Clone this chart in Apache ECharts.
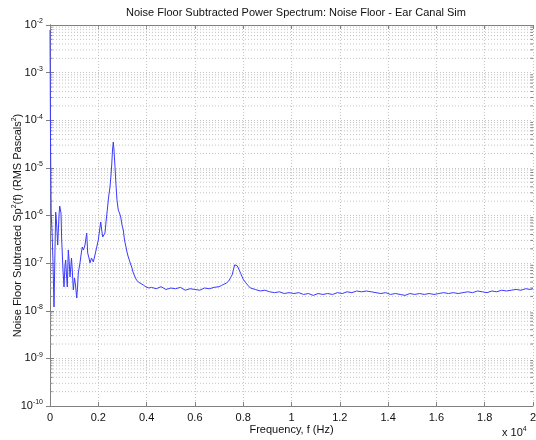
<!DOCTYPE html>
<html>
<head>
<meta charset="utf-8">
<script src="https://cdn.jsdelivr.net/npm/echarts@6/dist/echarts.min.js"></script>
<style>html,body{margin:0;padding:0;background:#fff}#c{width:536px;height:440px}</style>
</head>
<body>
<div id="c"></div>
<script>
// Frequency bins (Hz)
const freqs = [
  0, 21, 50, 83, 124, 166, 207, 236, 277, 319, 373, 402, 455, 484, 538, 580, 621, 650, 683, 716,
  758, 795, 828, 890, 923, 965, 1015, 1056, 1106, 1139, 1172, 1242, 1284, 1337, 1387, 1449, 1520, 1561, 1615, 1656,
  1718, 1793, 1863, 1934, 2000, 2099, 2141, 2182, 2236, 2277, 2319, 2373, 2422, 2484, 2526, 2555, 2588, 2621, 2650, 2692,
  2733, 2774, 2828, 2878, 2928, 2981, 3035, 3085, 3147, 3188, 3230, 3284, 3333, 3383, 3437, 3520, 3582, 3656, 3727, 3863,
  3975, 4100,
  4200, 4400, 4600, 4800, 5000, 5200, 5400, 5600, 5800, 6000, 6200, 6400, 6600, 6800, 7000,
  7100, 7200, 7300, 7400, 7500, 7550, 7600, 7650, 7700, 7750, 7800, 7900, 8000, 8100, 8200, 8300,
  8500, 8700, 8900, 9100, 9300, 9500, 9700, 9900, 10100, 10300, 10500, 10700, 10900, 11100, 11300, 11500,
  11700, 11900, 12100, 12300, 12500, 12700, 12900, 13100, 13300, 13500, 13700, 13900, 14100, 14300, 14500, 14700,
  14900, 15100, 15300, 15500, 15700, 15900, 16100, 16300, 16500, 16700, 16900, 17100, 17300, 17500, 17700, 17900,
  18100, 18300, 18500, 18700, 18900, 19100, 19300, 19500, 19700, 19900, 20000
];
// Noise floor subtracted Sp^2(f) (RMS Pascals^2)
const power = [
  7.85e-3, 3.85e-5, 1.02e-6, 4.96e-7, 1.06e-7, 1.20e-8, 1.89e-7, 1.18e-6, 6.32e-7, 2.40e-7, 1.02e-6, 1.58e-6, 1.13e-6, 3.06e-7, 7.18e-8, 3.16e-8, 9.14e-8, 1.16e-7, 5.64e-8, 3.16e-8,
  1.89e-7, 1.06e-7, 5.12e-8, 1.28e-7, 7.18e-8, 2.73e-8, 4.88e-8, 3.47e-8, 1.85e-8, 3.01e-8, 6.21e-8, 1.01e-7, 1.48e-7, 2.18e-7, 1.89e-7, 2.40e-7, 4.29e-7, 1.63e-7, 1.28e-7, 1.01e-7,
  1.28e-7, 1.06e-7, 1.48e-7, 1.63e-7, 3.06e-7, 7.31e-7, 4.96e-7, 3.54e-7, 3.71e-7, 4.29e-7, 7.31e-7, 1.30e-6, 2.33e-6, 3.96e-6, 7.08e-6, 1.15e-5, 2.37e-5, 3.49e-5, 2.37e-5, 1.04e-5,
  4.37e-6, 2.11e-6, 1.30e-6, 1.13e-6, 9.31e-7, 6.32e-7, 4.96e-7, 3.06e-7, 2.18e-7, 1.71e-7, 1.41e-7, 1.16e-7, 9.59e-8, 8.30e-8, 6.52e-8, 5.12e-8, 4.43e-8, 4.02e-8, 3.65e-8, 3.47e-8,
  3.16e-8, 3.0e-8,
  3.1e-8, 2.9e-8, 3.2e-8, 2.8e-8, 3.0e-8, 2.9e-8, 3.1e-8, 2.7e-8, 2.9e-8, 2.8e-8, 2.7e-8, 3.0e-8, 2.9e-8, 3.1e-8, 3.2e-8,
  3.4e-8, 3.6e-8, 3.8e-8, 4.2e-8, 5.2e-8, 5.8e-8, 7.5e-8, 9.2e-8, 9.6e-8, 8.8e-8, 7.9e-8, 6.0e-8, 4.6e-8, 3.9e-8, 3.4e-8, 3.0e-8,
  2.8e-8, 2.6e-8, 2.7e-8, 2.5e-8, 2.4e-8, 2.5e-8, 2.3e-8, 2.4e-8, 2.3e-8, 2.4e-8, 2.2e-8, 2.3e-8, 2.1e-8, 2.3e-8, 2.2e-8, 2.3e-8,
  2.2e-8, 2.4e-8, 2.3e-8, 2.5e-8, 2.4e-8, 2.6e-8, 2.5e-8, 2.6e-8, 2.5e-8, 2.4e-8, 2.3e-8, 2.4e-8, 2.2e-8, 2.3e-8, 2.2e-8, 2.1e-8,
  2.3e-8, 2.2e-8, 2.3e-8, 2.2e-8, 2.3e-8, 2.2e-8, 2.3e-8, 2.4e-8, 2.3e-8, 2.4e-8, 2.3e-8, 2.4e-8, 2.5e-8, 2.4e-8, 2.6e-8, 2.5e-8,
  2.4e-8, 2.6e-8, 2.5e-8, 2.7e-8, 2.6e-8, 2.7e-8, 2.8e-8, 2.7e-8, 2.9e-8, 2.8e-8, 2.9e-8
];
// Axis tick labels
const xTickLabels = ['0', '0.2', '0.4', '0.6', '0.8', '1', '1.2', '1.4', '1.6', '1.8', '2'];
const yTickExponents = [-10, -9, -8, -7, -6, -5, -4, -3, -2];

const X_MIN = 0, X_MAX = 20000, X_STEP = 2000;
const Y_MIN = 1e-10, Y_MAX = 1e-2;

// minor log grid positions (2..9 x 10^k)
const minorVals = [];
for (let k = -10; k < -2; k++) {
  for (let m = 2; m <= 9; m++) minorVals.push([X_MIN, m * Math.pow(10, k)]);
}

const lineData = freqs.map((f, i) => [f, power[i]]);
const gridCol = '#c4c4c4';
const axisCol = '#808080';
const font = 'Liberation Sans, Arial, Helvetica, sans-serif';

const chart = echarts.init(document.getElementById('c'), null, {renderer: 'canvas'});
chart.setOption({
  animation: false,
  backgroundColor: '#fff',
  title: {
    text: 'Noise Floor Subtracted Power Spectrum: Noise Floor - Ear Canal Sim',
    left: 291, top: 2, textAlign: 'center',
    textStyle: {fontFamily: font, fontSize: 11, fontWeight: 'normal', color: '#111'}
  },
  grid: {left: 50, right: 3, top: 25, bottom: 34, containLabel: false, outerBoundsMode: 'none'},
  xAxis: [{
    type: 'value', min: X_MIN, max: X_MAX, interval: X_STEP,
    name: 'Frequency, f (Hz)', nameLocation: 'middle', nameGap: 18, nameMoveOverlap: false,
    nameTextStyle: {fontFamily: font, fontSize: 11, color: '#111'},
    axisLine: {show: true, lineStyle: {color: axisCol, width: 1}},
    axisTick: {show: true, inside: true, length: 4, lineStyle: {color: axisCol}},
    axisLabel: {fontFamily: font, fontSize: 11, color: '#111', margin: 6,
      formatter: (v) => xTickLabels[Math.round(v / X_STEP)]},
    splitLine: {show: true, lineStyle: {color: gridCol, type: [1, 2], width: 1}}
  }, {
    type: 'value', min: X_MIN, max: X_MAX, interval: X_STEP, position: 'top',
    axisLine: {show: true, lineStyle: {color: axisCol, width: 1}},
    axisTick: {show: true, inside: true, length: 4, lineStyle: {color: axisCol}},
    axisLabel: {show: false}, splitLine: {show: false}
  }],
  yAxis: [{
    type: 'log', logBase: 10, min: Y_MIN, max: Y_MAX, interval: 1,
    name: 'Noise Floor Subtracted Sp{s|2}(f) (RMS Pascals{s|2})',
    nameLocation: 'middle', nameGap: 25, nameRotate: 90, nameMoveOverlap: false,
    nameTextStyle: {fontFamily: font, fontSize: 11, color: '#111', padding: [0, 20, 0, 0],
      rich: {s: {fontFamily: font, fontSize: 7, color: '#111', verticalAlign: 'bottom', padding: [0, 0, 7, 0]}}},
    axisLine: {show: true, lineStyle: {color: axisCol, width: 1}},
    axisTick: {show: true, inside: true, length: 4, lineStyle: {color: axisCol}},
    axisLabel: {
      margin: 7, color: '#111',
      formatter: (v) => {
        const e = Math.round(Math.log10(v));
        return yTickExponents.indexOf(e) >= 0 ? '{b|10}{e|' + e + '}' : '';
      },
      rich: {
        b: {fontFamily: font, fontSize: 11, color: '#111'},
        e: {fontFamily: font, fontSize: 7, color: '#111', verticalAlign: 'bottom', padding: [0, 0, 7, 0]}
      }
    },
    splitLine: {show: true, lineStyle: {color: gridCol, type: [1, 2], width: 1}}
  }, {
    type: 'log', logBase: 10, min: Y_MIN, max: Y_MAX, interval: 1, position: 'right',
    axisLine: {show: true, lineStyle: {color: axisCol, width: 1}},
    axisTick: {show: true, inside: true, length: 4, lineStyle: {color: axisCol}},
    axisLabel: {show: false}, splitLine: {show: false}
  }],
  graphic: [{
    type: 'text', left: 502, top: 426,
    style: {text: 'x 10{e|4}', fontFamily: font, fontSize: 11, fill: '#111',
      rich: {e: {fontFamily: font, fontSize: 7, fill: '#111', verticalAlign: 'bottom', padding: [0, 0, 7, 0]}}}
  }],
  series: [{
    type: 'custom', silent: true, xAxisIndex: 0, yAxisIndex: 0, z: 1,
    data: minorVals,
    renderItem: (params, api) => {
      const v = api.value(1);
      const a = api.coord([X_MIN, v]);
      const b = api.coord([X_MAX, v]);
      return {type: 'group', children: [
        {type: 'line', shape: {x1: a[0], y1: a[1], x2: b[0], y2: b[1]},
          style: {stroke: gridCol, lineWidth: 1, lineDash: [1, 2]}},
        {type: 'line', shape: {x1: a[0], y1: a[1], x2: a[0] + 2.5, y2: a[1]},
          style: {stroke: axisCol, lineWidth: 1}},
        {type: 'line', shape: {x1: b[0] - 2.5, y1: b[1], x2: b[0], y2: b[1]},
          style: {stroke: axisCol, lineWidth: 1}}
      ]};
    }
  }, {
    type: 'line', xAxisIndex: 0, yAxisIndex: 0, z: 5,
    data: lineData, showSymbol: false, symbol: 'none',
    lineStyle: {color: '#3a3aff', width: 1}
  }]
});
</script>
</body>
</html>
